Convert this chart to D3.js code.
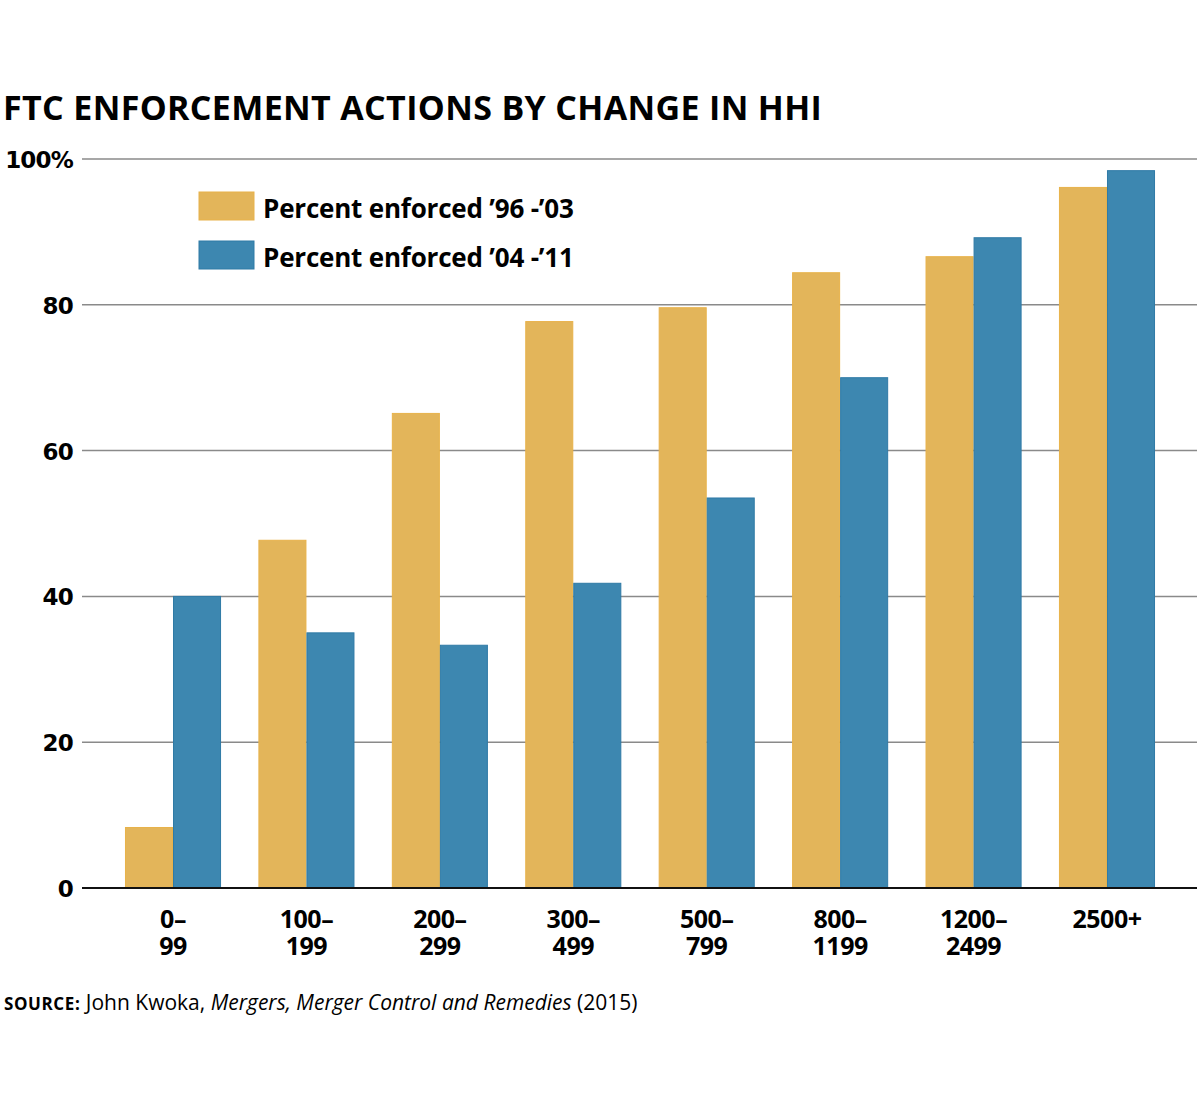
<!DOCTYPE html>
<html lang="en">
<head>
<meta charset="utf-8">
<style>
  body { margin: 0; background: #fff; }
  svg { display: block; }
</style>
</head>
<body>
<svg id="chart" width="1200" height="1105"></svg>
<script src="https://d3js.org/d3.v7.min.js"></script>
<script>
// data
var categories = [["0–", "99"], ["100–", "199"], ["200–", "299"], ["300–", "499"],
                  ["500–", "799"], ["800–", "1199"], ["1200–", "2499"], ["2500+"]];
var series = ["Percent enforced \u201996 -\u201903", "Percent enforced \u201904 -\u201911"];
var enforced9603 = [8.3, 47.7, 65.1, 77.7, 79.6, 84.4, 86.6, 96.1];
var enforced0411 = [40.0, 35.0, 33.3, 41.8, 53.5, 70.0, 89.2, 98.4];
var yTicks = [0, 20, 40, 60, 80, 100];

var fills = ["#e3b55a", "#3d87b0"];
var strokes = ["#e8b24a", "#2f7aa6"];

var svg = d3.select("#chart");
var plotLeft = 82, plotRight = 1197, plotTop = 159, plotBottom = 888;

var keys = categories.map(function(c) { return c.join(" "); });
var x = d3.scaleBand().domain(keys).range([106.3, 1173.7])
    .paddingInner(0.28).paddingOuter(0.14);
var xs = d3.scaleBand().domain([0, 1]).range([0, x.bandwidth()]);
var y = d3.scaleLinear().domain([0, 100]).range([plotBottom, plotTop]);

// title
svg.append("text")
    .attr("x", 3).attr("y", 120)
    .style("font-family", "'Open Sans', sans-serif")
    .style("font-weight", 700)
    .style("font-size", "34px")
    .style("letter-spacing", "0.35px")
    .text("FTC ENFORCEMENT ACTIONS BY CHANGE IN HHI");

// gridlines + y labels
svg.append("g").selectAll("line").data(yTicks.filter(function(d) { return d > 0; }))
  .enter().append("line")
    .attr("x1", plotLeft).attr("x2", plotRight)
    .attr("y1", function(d) { return y(d); })
    .attr("y2", function(d) { return y(d); })
    .attr("stroke", "#8a8a8a").attr("stroke-width", 1.5);

svg.append("g").selectAll("text").data(yTicks)
  .enter().append("text")
    .attr("x", 73)
    .attr("y", function(d) { return y(d) + 9; })
    .attr("text-anchor", "end")
    .style("font-family", "'DejaVu Sans', sans-serif")
    .style("font-weight", 700)
    .style("font-size", "23px")
    .style("letter-spacing", "-0.8px")
    .text(function(d) { return d === 100 ? "100%" : d; });

// bars
var rows = keys.map(function(k, i) { return {key: k, vals: [enforced9603[i], enforced0411[i]]}; });
var groups = svg.append("g").selectAll("g").data(rows)
  .enter().append("g")
    .attr("transform", function(d) { return "translate(" + x(d.key) + ",0)"; });

groups.selectAll("rect").data(function(d) { return d.vals; })
  .enter().append("rect")
    .attr("x", function(d, i) { return xs(i) + 0.5; })
    .attr("width", xs.bandwidth() - 1)
    .attr("y", function(d) { return y(d); })
    .attr("height", function(d) { return plotBottom - y(d); })
    .attr("fill", function(d, i) { return fills[i]; })
    .attr("stroke", function(d, i) { return strokes[i]; })
    .attr("stroke-width", 1);

// zero line
svg.append("line")
    .attr("x1", plotLeft).attr("x2", plotRight)
    .attr("y1", y(0)).attr("y2", y(0))
    .attr("stroke", "#111").attr("stroke-width", 2);

// x labels, one text per line
var xl = svg.append("g").selectAll("g").data(categories)
  .enter().append("g")
    .attr("transform", function(d, i) { return "translate(" + (x(keys[i]) + x.bandwidth() / 2) + ",928)"; });
xl.selectAll("text").data(function(d) { return d; })
  .enter().append("text")
    .attr("text-anchor", "middle")
    .attr("y", function(d, i) { return i * 27; })
    .style("font-family", "'Open Sans', sans-serif")
    .style("font-weight", 700)
    .style("font-size", "25px")
    .style("letter-spacing", "-0.5px")
    .text(function(d) { return d; });

// legend
var legend = svg.append("g").selectAll("g").data(series)
  .enter().append("g")
    .attr("transform", function(d, i) { return "translate(199," + (192 + i * 49) + ")"; });
legend.append("rect")
    .attr("width", 55).attr("height", 28)
    .attr("fill", function(d, i) { return fills[i]; })
    .attr("stroke", function(d, i) { return strokes[i]; });
legend.append("text")
    .attr("x", 64).attr("y", 26)
    .style("font-family", "'Open Sans', sans-serif")
    .style("font-weight", 700)
    .style("font-size", "26px")
    .style("letter-spacing", "-0.2px")
    .text(function(d) { return d; });

// source
var src = svg.append("text")
    .attr("x", 4).attr("y", 1010)
    .style("font-family", "'Open Sans', sans-serif")
    .style("font-size", "21px");
src.append("tspan").style("font-weight", 700).style("font-size", "17px")
    .style("letter-spacing", "0.6px").text("SOURCE:");
src.append("tspan").text(" John Kwoka, ");
src.append("tspan").style("font-style", "italic").text("Mergers, Merger Control and Remedies");
src.append("tspan").text(" (2015)");
</script>
</body>
</html>
